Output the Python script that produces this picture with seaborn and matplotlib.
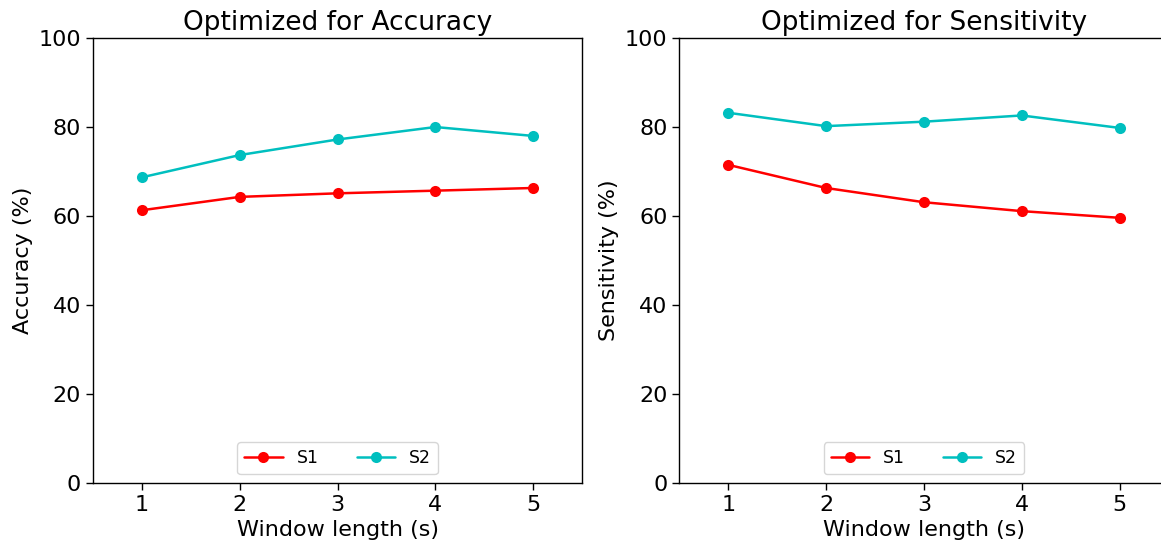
import matplotlib
matplotlib.use("Agg")
import matplotlib.pyplot as plt
import seaborn as sns
import pandas as pd

window_length = [1, 2, 3, 4, 5]
acc_s1 = [61.3, 64.3, 65.1, 65.7, 66.3]
acc_s2 = [68.7, 73.7, 77.2, 80.0, 78.0]
sens_s1 = [71.5, 66.3, 63.1, 61.1, 59.6]
sens_s2 = [83.2, 80.2, 81.2, 82.6, 79.8]
subjects = ["S1", "S2"]

sns.set_style("ticks")
plt.rcParams["font.family"] = ["DejaVu Sans"]
plt.rcParams.update({
    "text.color": "black",
    "axes.labelcolor": "black",
    "xtick.color": "black",
    "ytick.color": "black",
    "axes.edgecolor": "black",
})

def frame(s1, s2):
    return pd.DataFrame({
        "window": window_length * 2,
        "value": s1 + s2,
        "subject": [subjects[0]] * len(s1) + [subjects[1]] * len(s2),
    })

palette = {"S1": "red", "S2": "c"}

fig = plt.figure(figsize=(11.61, 5.44), dpi=100)
ax1 = fig.add_axes([0.0801, 0.1121, 0.4212, 0.818])
ax2 = fig.add_axes([0.5852, 0.1121, 0.4212, 0.818])

panels = [
    (ax1, frame(acc_s1, acc_s2), "Optimized for Accuracy", "Accuracy (%)"),
    (ax2, frame(sens_s1, sens_s2), "Optimized for Sensitivity", "Sensitivity (%)"),
]

for ax, df, title, ylabel in panels:
    sns.lineplot(data=df, x="window", y="value", hue="subject", palette=palette,
                 marker="o", markersize=8, markeredgewidth=0, linewidth=1.8, ax=ax)
    ax.set_xlim(0.5, 5.5)
    ax.set_ylim(0, 100)
    ax.set_xticks(window_length)
    ax.set_yticks([0, 20, 40, 60, 80, 100])
    ax.tick_params(labelsize=16, length=5, width=1, colors="black")
    ax.set_title(title, fontsize=19, color="black")
    ax.set_xlabel("Window length (s)", fontsize=16)
    ax.set_ylabel(ylabel, fontsize=16)
    for sp in ax.spines.values():
        sp.set_visible(True)
        sp.set_linewidth(1)
        sp.set_color("black")
    leg = ax.legend(loc="lower center", ncol=2, fontsize=12.5, title=None,
                    handlelength=2.2, columnspacing=2.2)
    for t in leg.get_texts():
        t.set_color("black")

fig.savefig("out.png", dpi=100)
